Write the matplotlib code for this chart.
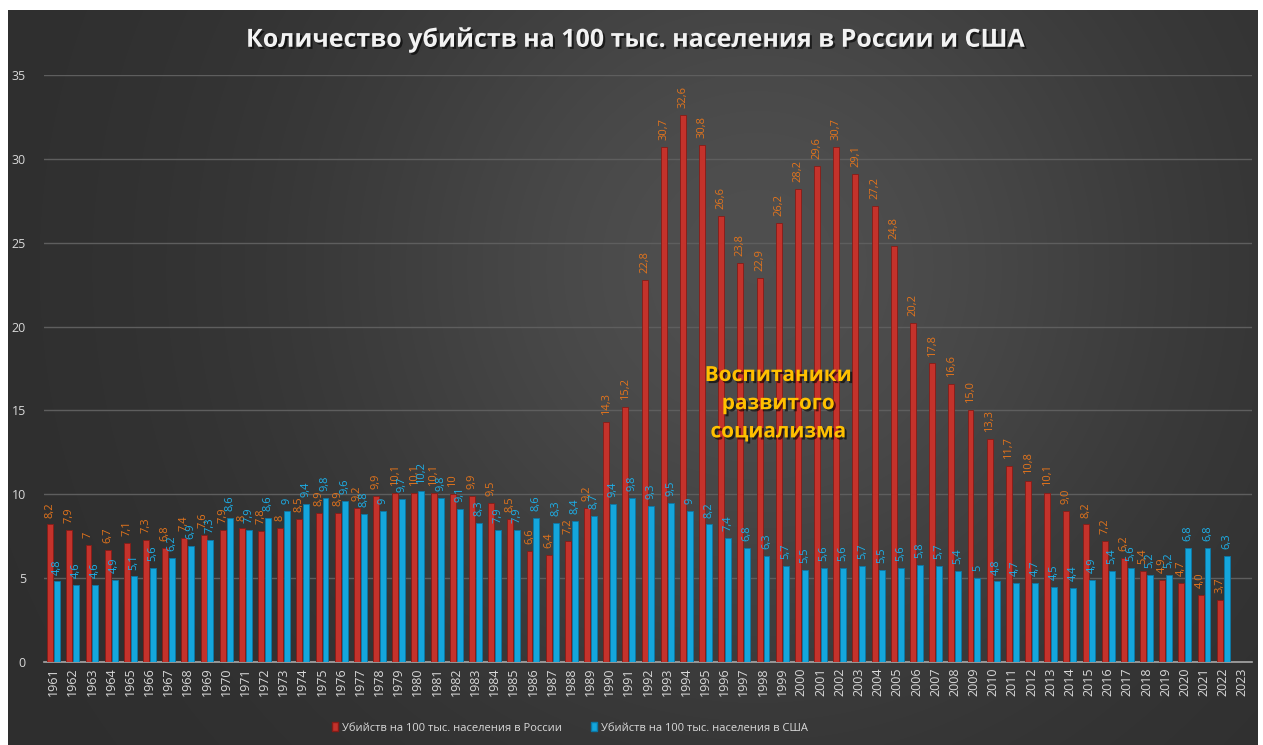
import numpy as np
import matplotlib.pyplot as plt
import matplotlib.patheffects as pe
from matplotlib.patches import Patch

plt.rcParams['font.family'] = ['Open Sans', 'DejaVu Sans']

# данные
years = list(range(1961, 2024))
russia = [8.2, 7.9, 7, 6.7, 7.1, 7.3, 6.8, 7.4, 7.6, 7.9,
          8, 7.8, 8, 8.5, 8.9, 8.9, 9.2, 9.9, 10.1, 10.1,
          10.1, 10, 9.9, 9.5, 8.5, 6.6, 6.4, 7.2, 9.2, 14.3,
          15.2, 22.8, 30.7, 32.6, 30.8, 26.6, 23.8, 22.9, 26.2, 28.2,
          29.6, 30.7, 29.1, 27.2, 24.8, 20.2, 17.8, 16.6, 15.0, 13.3,
          11.7, 10.8, 10.1, 9.0, 8.2, 7.2, 6.2, 5.4, 4.9, 4.7,
          4.0, 3.7, np.nan]
usa = [4.8, 4.6, 4.6, 4.9, 5.1, 5.6, 6.2, 6.9, 7.3, 8.6,
       7.9, 8.6, 9, 9.4, 9.8, 9.6, 8.8, 9, 9.7, 10.2,
       9.8, 9.1, 8.3, 7.9, 7.9, 8.6, 8.3, 8.4, 8.7, 9.4,
       9.8, 9.3, 9.5, 9, 8.2, 7.4, 6.8, 6.3, 5.7, 5.5,
       5.6, 5.6, 5.7, 5.5, 5.6, 5.8, 5.7, 5.4, 5, 4.8,
       4.7, 4.7, 4.5, 4.4, 4.9, 5.4, 5.6, 5.2, 5.2, 6.8,
       6.8, 6.3, np.nan]
title = 'Количество убийств на 100 тыс. населения в России и США'
note = 'Воспитаники\nразвитого\nсоциализма'
name_ru = 'Убийств на 100 тыс. населения в России'
name_us = 'Убийств на 100 тыс. населения в США'


def fmt(v, fixed=False):
    s = '%.1f' % v if fixed else '%g' % v
    return s.replace('.', ',')


W, H = 1263, 745
fig = plt.figure(figsize=(W / 100, H / 100), dpi=100)
fig.patch.set_facecolor('white')

# тёмная подложка с мягким градиентом
bg = fig.add_axes([8 / W, 0, 1250 / W, 1 - 10 / H])
gx, gy = np.meshgrid(np.linspace(0, 1, 600), np.linspace(0, 1, 400))
glow = 0.18 + 0.13 * np.exp(-((gx - 0.6) ** 2 / 0.12 + (gy - 0.35) ** 2 / 0.35))
bg.imshow(np.dstack([glow, glow, glow]), aspect='auto', extent=[0, 1, 1, 0],
          interpolation='bilinear')
bg.axis('off')

ax = fig.add_axes([44 / W, 1 - 662 / H, 1208 / W, 587 / H])
ax.set_facecolor('none')

x = np.arange(len(years))
w = 0.31
ax.bar(x - 0.18, russia, w, color='#c4322b', edgecolor='#861c17', linewidth=0.6, zorder=3)
ax.bar(x + 0.18, usa, w, color='#14a6dc', edgecolor='#0c78a6', linewidth=0.6, zorder=3)

for i, (r, u) in enumerate(zip(russia, usa)):
    if not np.isnan(r):
        ax.annotate(fmt(r, years[i] >= 2006), (x[i] - 0.18, r), xytext=(0, 5),
                    textcoords='offset points', rotation=90, ha='center', va='bottom',
                    fontsize=8, color='#e3741c', zorder=4)
    if not np.isnan(u):
        ax.annotate(fmt(u), (x[i] + 0.18, u), xytext=(0, 5),
                    textcoords='offset points', rotation=90, ha='center', va='bottom',
                    fontsize=8, color='#1cb0ea', zorder=4)

ax.set_xlim(-0.5, len(years) - 0.5)
ax.set_ylim(0, 35)
ax.set_xticks(x)
ax.set_xticklabels([str(y) for y in years], rotation=90)
ax.set_yticks(range(0, 36, 5))
ax.yaxis.grid(True, color='#5e5e5e', linewidth=1)
ax.set_axisbelow(True)
for s in ['top', 'right', 'left']:
    ax.spines[s].set_visible(False)
ax.spines['bottom'].set_color('#a8a8a8')
ax.spines['bottom'].set_linewidth(1.2)
ax.tick_params(axis='x', length=0, pad=4, labelsize=9, colors='#d9d9d9')
ax.tick_params(axis='y', length=0, pad=13, labelsize=9, colors='#d9d9d9')

shadow = [pe.withSimplePatchShadow(offset=(1.5, -1.5), shadow_rgbFace='black', alpha=0.6)]
fig.text(0.504, 1 - 40 / H, title, ha='center', va='center', fontsize=18,
         fontweight='bold', color='#f2f2f2', path_effects=shadow)

ax.text(37.8, 15.4, note, ha='center', va='center', fontsize=15, fontweight='bold',
        color='#ffc000', linespacing=1.45, zorder=5, path_effects=shadow)

handles = [Patch(facecolor='#c4322b', edgecolor='#861c17', label=name_ru),
           Patch(facecolor='#14a6dc', edgecolor='#0c78a6', label=name_us)]
fig.legend(handles=handles, loc='center', bbox_to_anchor=(0.451, 1 - 728 / H), ncol=2,
           frameon=False, fontsize=8, labelcolor='#d9d9d9', handlelength=0.6,
           handleheight=0.8, handletextpad=0.3, columnspacing=2.6)

fig.savefig('out.png', dpi=100, facecolor=fig.get_facecolor())
